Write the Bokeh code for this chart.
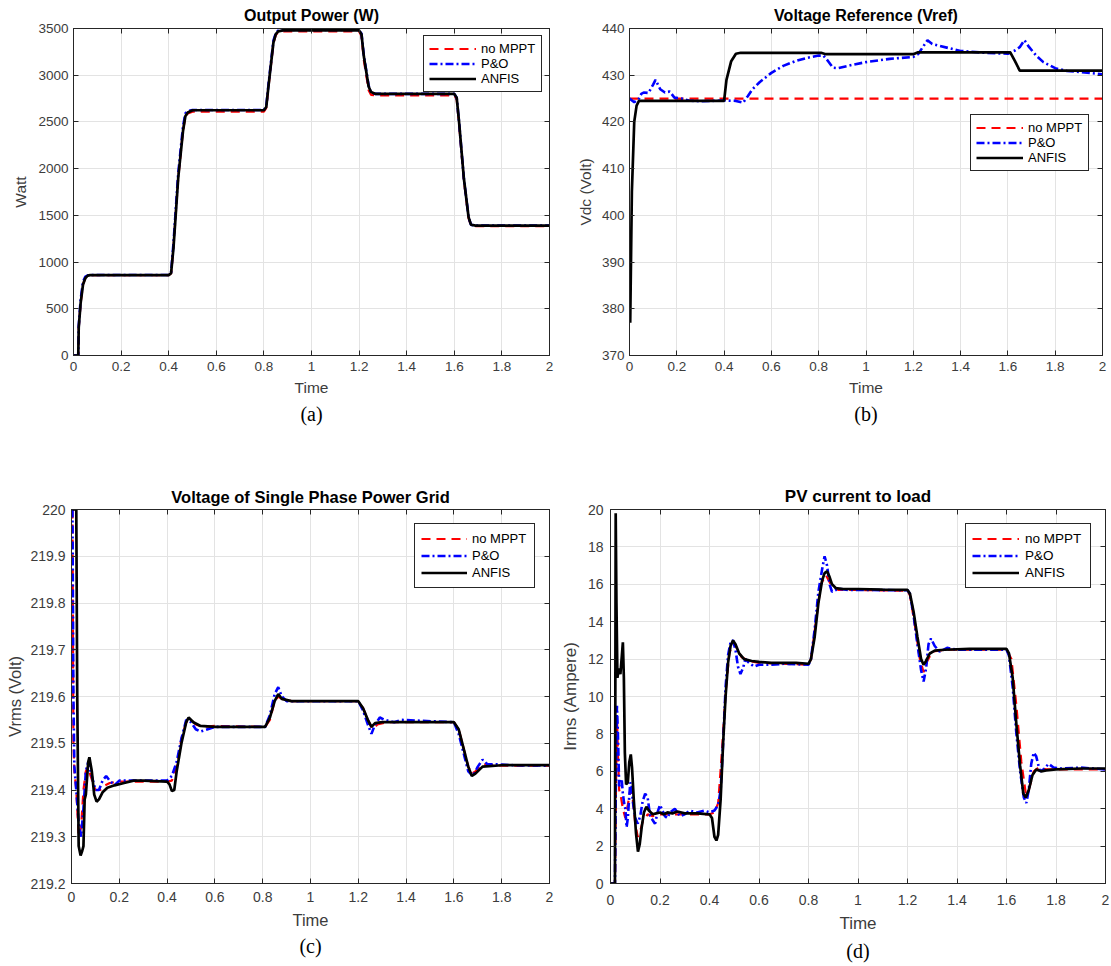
from bokeh.plotting import figure
from bokeh.models import Range1d, FixedTicker, LinearAxis, Title, CustomLabelingPolicy
from bokeh.layouts import column, row
from bokeh.embed import file_html
from bokeh.resources import INLINE

# ---------------- shared ticks ----------------
x_ticks = [0, 0.2, 0.4, 0.6, 0.8, 1.0, 1.2, 1.4, 1.6, 1.8, 2.0]
x_tick_labels = ["0", "0.2", "0.4", "0.6", "0.8", "1", "1.2", "1.4", "1.6", "1.8", "2"]
series_names = ["no MPPT", "P&O", "ANFIS"]

# ---------------- (a) Output Power ----------------
a_yticks = [0, 500, 1000, 1500, 2000, 2500, 3000, 3500]
a_ylabels = ["0", "500", "1000", "1500", "2000", "2500", "3000", "3500"]
a_t = [0, 0.02, 0.022, 0.03, 0.04, 0.05, 0.06, 0.07, 0.40, 0.41, 0.42, 0.44, 0.46, 0.47, 0.48,
       0.50, 0.80, 0.81, 0.82, 0.84, 0.85, 0.86, 0.88, 1.20, 1.21, 1.22, 1.24, 1.25, 1.27,
       1.60, 1.61, 1.62, 1.64, 1.66, 1.67, 1.69, 2.00]
a_anfis = [0, 0, 300, 560, 760, 830, 855, 860, 860, 880, 1150, 1900, 2400, 2560, 2600,
           2625, 2625, 2660, 2900, 3350, 3440, 3470, 3480, 3480, 3440, 3200, 2880, 2820, 2800,
           2800, 2760, 2500, 1900, 1480, 1400, 1390, 1390]
a_nomppt = [0, 0, 300, 560, 760, 830, 855, 860, 860, 880, 1150, 1900, 2400, 2560, 2590,
            2610, 2610, 2650, 2890, 3340, 3430, 3460, 3468, 3468, 3420, 3160, 2840, 2790, 2785,
            2785, 2740, 2480, 1880, 1470, 1395, 1385, 1385]
a_po = [0, 0, 320, 600, 790, 845, 858, 862, 862, 890, 1200, 1950, 2450, 2590, 2615,
        2628, 2628, 2670, 2920, 3370, 3450, 3478, 3485, 3485, 3445, 3210, 2890, 2815, 2800,
        2800, 2760, 2500, 1900, 1480, 1400, 1390, 1390]

# ---------------- (b) Voltage Reference ----------------
b_yticks = [370, 380, 390, 400, 410, 420, 430, 440]
b_ylabels = ["370", "380", "390", "400", "410", "420", "430", "440"]
b_nomppt_t = [0, 2.0]
b_nomppt = [425, 425]
b_anfis_t = [0.003, 0.01, 0.02, 0.03, 0.04, 0.40, 0.41, 0.43, 0.45, 0.47, 0.81, 0.83, 1.20,
             1.22, 1.61, 1.63, 1.65, 2.0]
b_anfis = [377, 405, 420, 423.5, 424.5, 424.5, 429, 433, 434.6, 434.8, 434.8, 434.5, 434.5,
           434.9, 434.9, 433, 431, 431]
b_po_t = [0, 0.02, 0.04, 0.05, 0.06, 0.08, 0.10, 0.11, 0.13, 0.15, 0.17, 0.19, 0.22, 0.25,
          0.30, 0.40, 0.45, 0.48, 0.50, 0.52, 0.55, 0.60, 0.65, 0.70, 0.75, 0.80, 0.82, 0.84,
          0.86, 0.88, 0.95, 1.00, 1.10, 1.20, 1.22, 1.24, 1.26, 1.28, 1.35, 1.40, 1.50, 1.60,
          1.63, 1.65, 1.67, 1.69, 1.72, 1.75, 1.80, 1.85, 1.90, 2.00]
b_po = [425, 424.2, 425, 426, 426.3, 426.2, 428, 429, 427, 426.3, 426.5, 425.2, 425, 424.6,
        424.4, 424.6, 424.5, 424.1, 425.5, 427, 428.5, 430.5, 432, 433, 433.7, 434.2, 434.2, 433,
        431.6, 431.5, 432.3, 432.8, 433.5, 433.9, 434.5, 436, 437.5, 436.7, 435.8, 435.2, 434.8,
        434.6, 435.3, 436, 437.5, 436, 434.2, 432.8, 431.5, 430.9, 430.7, 430.2]

# ---------------- (c) Grid voltage ----------------
c_yticks = [219.2, 219.3, 219.4, 219.5, 219.6, 219.7, 219.8, 219.9, 220.0]
c_ylabels = ["219.2", "219.3", "219.4", "219.5", "219.6", "219.7", "219.8", "219.9", "220"]
c_anfis_t = [0.004, 0.012, 0.02, 0.024, 0.03, 0.038, 0.045, 0.05, 0.055, 0.06, 0.07, 0.075,
             0.085, 0.095, 0.105, 0.115, 0.13, 0.15, 0.18, 0.22, 0.26, 0.30, 0.40, 0.41, 0.42,
             0.43, 0.44, 0.46, 0.48, 0.49, 0.51, 0.54, 0.60, 0.81, 0.83, 0.85, 0.865, 0.88, 0.92,
             1.20, 1.22, 1.24, 1.255, 1.27, 1.30, 1.60, 1.62, 1.64, 1.66, 1.675, 1.69, 1.72,
             1.80, 2.00]
c_anfis = [220, 220, 220, 219.6, 219.28, 219.26, 219.27, 219.28, 219.38, 219.39, 219.46, 219.47,
           219.44, 219.39, 219.375, 219.38, 219.395, 219.405, 219.41, 219.415, 219.42, 219.42,
           219.418, 219.412, 219.398, 219.40, 219.44, 219.50, 219.545, 219.555, 219.545,
           219.537, 219.535, 219.535, 219.555, 219.59, 219.605, 219.595, 219.59, 219.59, 219.575,
           219.55, 219.535, 219.543, 219.545, 219.545, 219.53, 219.49, 219.45, 219.43, 219.435,
           219.45, 219.453, 219.453]
c_nomppt_t = [0.004, 0.008, 0.012, 0.02, 0.03, 0.04, 0.05, 0.06, 0.07, 0.08, 0.10, 0.12, 0.14,
              0.16, 0.20, 0.40, 0.42, 0.44, 0.46, 0.48, 0.50, 0.52, 0.55, 0.60, 0.81, 0.83, 0.85,
              0.865, 0.88, 0.92, 1.20, 1.22, 1.24, 1.26, 1.28, 1.32, 1.38, 1.60, 1.62, 1.64, 1.66,
              1.675, 1.69, 1.72, 1.80, 2.00]
c_nomppt = [220, 219.5, 219.44, 219.40, 219.30, 219.32, 219.40, 219.44, 219.45, 219.43, 219.40,
            219.40, 219.41, 219.415, 219.418, 219.418, 219.42, 219.45, 219.51, 219.545, 219.55,
            219.54, 219.535, 219.537, 219.535, 219.55, 219.59, 219.60, 219.595, 219.59, 219.59,
            219.575, 219.55, 219.53, 219.54, 219.545, 219.545, 219.545, 219.53, 219.49, 219.45,
            219.435, 219.44, 219.455, 219.452, 219.452]
c_po_t = [0.004, 0.008, 0.012, 0.02, 0.03, 0.04, 0.05, 0.06, 0.07, 0.085, 0.10, 0.115, 0.13,
          0.145, 0.16, 0.18, 0.20, 0.25, 0.40, 0.42, 0.44, 0.46, 0.48, 0.50, 0.52, 0.54, 0.57,
          0.60, 0.81, 0.83, 0.85, 0.865, 0.88, 0.90, 1.20, 1.22, 1.24, 1.255, 1.27, 1.29, 1.31,
          1.35, 1.38, 1.60, 1.62, 1.64, 1.66, 1.68, 1.70, 1.72, 1.74, 1.78, 1.85, 2.00]
c_po = [220, 219.6, 219.45, 219.40, 219.33, 219.30, 219.36, 219.44, 219.46, 219.43, 219.40,
        219.40, 219.42, 219.43, 219.42, 219.41, 219.42, 219.42, 219.42, 219.43, 219.46, 219.51,
        219.55, 219.545, 219.53, 219.525, 219.53, 219.535, 219.535, 219.56, 219.605, 219.62,
        219.60, 219.59, 219.59, 219.57, 219.54, 219.52, 219.54, 219.555, 219.55, 219.545,
        219.55, 219.545, 219.52, 219.48, 219.44, 219.43, 219.45, 219.465, 219.455, 219.455,
        219.453, 219.452]

# ---------------- (d) PV current ----------------
d_yticks = [0, 2, 4, 6, 8, 10, 12, 14, 16, 18, 20]
d_ylabels = ["0", "2", "4", "6", "8", "10", "12", "14", "16", "18", "20"]
d_anfis_t = [0, 0.018, 0.021, 0.024, 0.028, 0.033, 0.04, 0.046, 0.05, 0.054, 0.058, 0.063,
             0.07, 0.076, 0.082, 0.087, 0.094, 0.103, 0.111, 0.118, 0.126, 0.135, 0.145, 0.155,
             0.17, 0.185, 0.2, 0.215, 0.23, 0.25, 0.27, 0.3, 0.35, 0.4, 0.41, 0.42, 0.428, 0.435,
             0.445, 0.455, 0.465, 0.475, 0.485, 0.495, 0.505, 0.52, 0.54, 0.57, 0.6, 0.65, 0.7,
             0.75, 0.8, 0.81, 0.825, 0.84, 0.855, 0.865, 0.875, 0.885, 0.895, 0.91, 0.94, 1.0,
             1.1, 1.2, 1.21, 1.225, 1.24, 1.255, 1.265, 1.275, 1.29, 1.31, 1.35, 1.45, 1.6, 1.61,
             1.625, 1.64, 1.655, 1.668, 1.678, 1.69, 1.705, 1.72, 1.74, 1.76, 1.8, 1.9, 2.0]
d_anfis = [0, 0, 19.8, 15, 11, 11.5, 11.2, 12.2, 12.9, 11, 7, 5.3, 5.4, 6.5, 6.9, 6.2, 4.5, 2.7,
           1.7, 2.1, 3.0, 3.8, 4.1, 3.9, 3.7, 3.75, 3.8, 3.7, 3.8, 3.75, 3.85, 3.75, 3.75, 3.7,
           3.5, 2.5, 2.3, 2.6, 4.5, 7.5, 10, 11.8, 12.7, 13.0, 12.8, 12.3, 12.0, 11.9, 11.85,
           11.8, 11.8, 11.8, 11.75, 12.0, 13.2, 15.0, 16.2, 16.6, 16.7, 16.4, 16.0, 15.8, 15.75,
           15.75, 15.72, 15.7, 15.5, 14.5, 13.2, 12.0, 11.7, 11.9, 12.3, 12.45, 12.5, 12.55,
           12.55, 12.3, 11.0, 8.5, 6.3, 4.8, 4.6, 5.0, 5.8, 6.1, 6.0, 6.05, 6.1, 6.15, 6.15]
d_po_t = [0, 0.018, 0.022, 0.026, 0.03, 0.035, 0.04, 0.045, 0.05, 0.055, 0.06, 0.065, 0.07,
          0.075, 0.08, 0.085, 0.09, 0.1, 0.11, 0.12, 0.13, 0.14, 0.15, 0.16, 0.17, 0.18, 0.19,
          0.2, 0.21, 0.22, 0.23, 0.24, 0.26, 0.28, 0.3, 0.32, 0.35, 0.38, 0.4, 0.42, 0.435,
          0.445, 0.455, 0.465, 0.475, 0.485, 0.495, 0.505, 0.515, 0.525, 0.535, 0.545, 0.56,
          0.58, 0.6, 0.65, 0.7, 0.8, 0.81, 0.825, 0.84, 0.855, 0.865, 0.875, 0.885, 0.895, 0.91,
          0.93, 0.96, 1.0, 1.2, 1.21, 1.225, 1.24, 1.255, 1.265, 1.275, 1.285, 1.295, 1.31,
          1.33, 1.36, 1.4, 1.5, 1.6, 1.61, 1.625, 1.64, 1.655, 1.67, 1.68, 1.69, 1.70, 1.71,
          1.72, 1.735, 1.75, 1.77, 1.79, 1.82, 1.9, 2.0]
d_po = [0, 0, 6, 9.5, 8, 5.2, 5.4, 5.6, 4.8, 4.3, 4.0, 3.0, 3.5, 4.5, 5.4, 5.3, 4.4, 3.5, 3.2,
        3.6, 4.4, 4.8, 4.6, 3.6, 3.4, 3.2, 3.8, 4.2, 3.9, 3.6, 3.5, 3.8, 4.0, 3.6, 3.7, 3.9, 3.8,
        3.9, 3.8, 3.9, 4.2, 5.0, 7.5, 10.5, 12.2, 12.9, 13.0, 12.5, 11.6, 11.2, 11.5, 12.0, 11.8,
        11.6, 11.7, 11.7, 11.75, 11.7, 12.0, 13.6, 15.6, 16.8, 17.5, 17.0, 16.0, 15.6, 15.7,
        15.75, 15.7, 15.7, 15.68, 15.5, 14.3, 12.8, 11.4, 10.8, 11.5, 12.8, 13.1, 12.7, 12.4,
        12.6, 12.5, 12.5, 12.5, 12.2, 10.5, 8.0, 6.0, 4.6, 4.3, 5.0, 6.4, 7.0, 6.8, 6.0, 6.1,
        6.4, 6.2, 6.15, 6.2, 6.1]
d_nomppt_t = [0, 0.018, 0.022, 0.026, 0.03, 0.035, 0.04, 0.05, 0.06, 0.07, 0.08, 0.09, 0.1,
              0.11, 0.12, 0.13, 0.15, 0.17, 0.2, 0.25, 0.3, 0.4, 0.42, 0.435, 0.45, 0.465, 0.48,
              0.495, 0.51, 0.53, 0.56, 0.6, 0.7, 0.8, 0.81, 0.83, 0.85, 0.87, 0.89, 0.92, 1.0,
              1.2, 1.21, 1.23, 1.25, 1.265, 1.28, 1.3, 1.35, 1.6, 1.62, 1.64, 1.66, 1.678, 1.69,
              1.71, 1.73, 1.76, 1.8, 2.0]
d_nomppt = [0, 0, 5, 9, 7, 5, 4.8, 4.0, 3.5, 4.2, 5.0, 4.5, 3.2, 2.5, 2.8, 3.3, 3.7, 3.6, 3.7,
            3.7, 3.7, 3.7, 3.8, 4.3, 7.0, 10.2, 12.3, 12.9, 12.6, 12.1, 11.9, 11.8, 11.75, 11.7,
            12.0, 14.0, 16.0, 16.5, 16.0, 15.7, 15.7, 15.65, 15.4, 13.8, 12.0, 11.3, 11.9, 12.4,
            12.5, 12.5, 12.0, 9.5, 6.5, 4.8, 5.0, 6.0, 6.2, 6.1, 6.1, 6.1]

SANS = "Liberation Sans"
SERIF = "Liberation Serif"
AX = "#262626"
LBL = "#3c3c3c"
NO_LABELS = "for (const i of indices) { indices.unset(i) } return indices"


def panel(title, ylabel, caption, yr, yticks, ylabels, series, frame_w, frame_h, borders,
          fs, st, legend_cfg):
    bl, br, bt, bb = borders
    p = figure(width=bl + frame_w + br, height=bt + frame_h + bb, output_backend="svg",
               toolbar_location=None, x_range=Range1d(0, 2), y_range=Range1d(*yr),
               min_border_left=bl, min_border_right=br, min_border_top=bt,
               min_border_bottom=bb, background_fill_color="white",
               border_fill_color="white")
    p.title.text = title
    p.title.align = "center"
    p.title.text_font = SANS
    p.title.text_font_style = "bold"
    p.title.text_font_size = f"{fs['title']}px"
    p.title.text_color = "black"
    p.title.standoff = st["title"]
    p.outline_line_color = AX
    p.outline_line_width = 1
    p.outline_line_alpha = 1

    xo = {t: l for t, l in zip(x_ticks, x_tick_labels)}
    yo = {t: l for t, l in zip(yticks, ylabels)}
    for ax, ticks, over, lab, key in ((p.xaxis[0], x_ticks, xo, "Time", "x"),
                                      (p.yaxis[0], yticks, yo, ylabel, "y")):
        ax.ticker = FixedTicker(ticks=ticks)
        ax.major_label_overrides = over
        ax.axis_label = lab
        ax.axis_label_text_font = SANS
        ax.axis_label_text_font_style = "normal"
        ax.axis_label_text_font_size = f"{fs['label']}px"
        ax.axis_label_text_color = LBL
        ax.major_label_text_font = SANS
        ax.major_label_text_font_size = f"{fs['tick']}px"
        ax.major_label_text_color = LBL
        ax.axis_line_color = AX
        ax.major_tick_line_color = AX
        ax.major_tick_in = 5
        ax.major_tick_out = 0
        ax.minor_tick_line_color = None
        ax.major_label_standoff = st[key + "tick"]
        ax.axis_label_standoff = st[key + "lab"]
    # tick marks on top and right (box style), without labels
    for ticks, side in ((x_ticks, "above"), (yticks, "right")):
        ax2 = LinearAxis(ticker=FixedTicker(ticks=ticks), major_label_text_font_size="1px",
                         major_label_policy=CustomLabelingPolicy(code=NO_LABELS),
                         major_label_standoff=0, major_tick_in=5, major_tick_out=0,
                         minor_tick_line_color=None, axis_line_color=AX,
                         major_tick_line_color=AX)
        p.add_layout(ax2, side)

    p.xgrid.ticker = FixedTicker(ticks=x_ticks)
    p.ygrid.ticker = FixedTicker(ticks=yticks)
    p.grid.grid_line_color = "#e3e3e3"
    p.grid.grid_line_width = 1

    styles = [
        dict(line_color="#ff0000", line_dash="9 6", line_width=2.2),
        dict(line_color="#0000ff", line_dash="8 3 2 3", line_width=2.6),
        dict(line_color="#000000", line_width=2.7),
    ]
    for name, (tt, vv), sty in zip(series_names, series, styles):
        p.line(tt, vv, legend_label=name, **sty)

    lg = p.legend[0]
    lg.location = legend_cfg["loc"]
    lg.margin = legend_cfg.get("margin", 0)
    lg.border_line_color = AX
    lg.border_line_width = 1
    lg.border_line_alpha = 1
    lg.background_fill_alpha = 1
    lg.label_text_font = SANS
    lg.label_text_font_size = f"{fs['legend']}px"
    lg.label_text_color = "black"
    lg.label_height = legend_cfg["item_h"]
    lg.glyph_height = legend_cfg["item_h"]
    lg.glyph_width = legend_cfg["glyph_w"]
    lg.label_width = legend_cfg["label_w"]
    lg.spacing = 0
    lg.padding = legend_cfg["pad"]
    lg.label_standoff = legend_cfg["standoff"]

    cap = Title(text=caption, align="center", text_font=SERIF, text_font_size="20px",
                text_font_style="normal", text_color="black", standoff=st["cap"])
    p.add_layout(cap, "below")
    return p


pa = panel("Output Power (W)", "Watt", "(a)", (0, 3500), a_yticks, a_ylabels,
           [(a_t, a_nomppt), (a_t, a_po), (a_t, a_anfis)],
           476, 329, (73, 20, 26, 100),
           dict(title=16, label=15.5, tick=13.5, legend=13),
           dict(title=1, xtick=6, xlab=5, ytick=5, ylab=6, cap=5),
           dict(loc="top_right", margin=7, item_h=15, glyph_w=47, label_w=55, pad=5, standoff=5))
pb = panel("Voltage Reference (Vref)", "Vdc (Volt)", "(b)", (370, 440), b_yticks, b_ylabels,
           [(b_nomppt_t, b_nomppt), (b_po_t, b_po), (b_anfis_t, b_anfis)],
           473, 327, (60, 8, 28, 100),
           dict(title=16, label=15.5, tick=13.5, legend=13),
           dict(title=1, xtick=6, xlab=5, ytick=5, ylab=5, cap=5),
           dict(loc=(341, 184), item_h=15, glyph_w=47, label_w=55, pad=5, standoff=5))
pc = panel("Voltage of Single Phase Power Grid", "Vrms (Volt)", "(c)", (219.2, 220.0),
           c_yticks, c_ylabels,
           [(c_nomppt_t, c_nomppt), (c_po_t, c_po), (c_anfis_t, c_anfis)],
           478, 380, (71, 8, 54, 75),
           dict(title=16.5, label=16.5, tick=14, legend=13),
           dict(title=0, xtick=8, xlab=6, ytick=6, ylab=3, cap=2),
           dict(loc="top_right", margin=14, item_h=17, glyph_w=46, label_w=56, pad=6, standoff=5))
pd_ = panel("PV current to load", "Irms (Ampere)", "(d)", (0, 20), d_yticks, d_ylabels,
            [(d_nomppt_t, d_nomppt), (d_po_t, d_po), (d_anfis_t, d_anfis)],
            498, 395, (50, 6, 34, 80),
            dict(title=17, label=17, tick=14, legend=13.5),
            dict(title=0, xtick=11, xlab=6, ytick=7, ylab=5, cap=5),
            dict(loc="top_right", margin=14, item_h=17, glyph_w=47, label_w=59, pad=6, standoff=6))

layout = column(row(pa, pb), row(pc, pd_))
open("out.html", "w").write(file_html(layout, INLINE))
